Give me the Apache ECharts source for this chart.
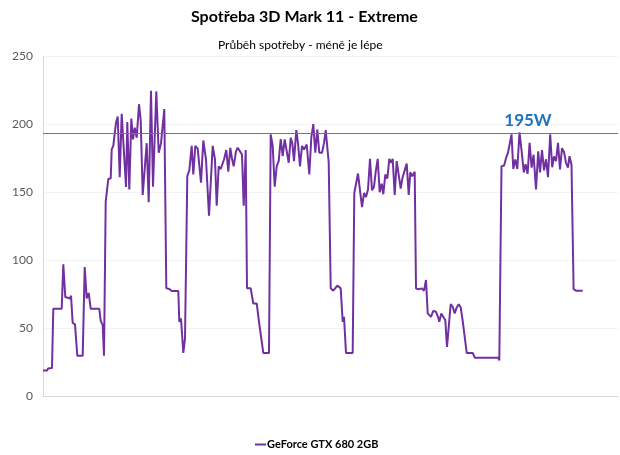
<!DOCTYPE html>
<html>
<head>
<meta charset="utf-8">
<script src="https://cdn.jsdelivr.net/npm/echarts@6/dist/echarts.min.js"></script>
<style>html,body{margin:0;padding:0;background:#fff}#c{width:620px;height:455px}</style>
</head>
<body>
<div id="c"></div>
<script>
const titleText = 'Spotřeba 3D Mark 11 - Extreme';
const subtitleText = 'Průběh spotřeby - méně je lépe';
const seriesName = 'GeForce GTX 680 2GB';
const refValue = 193;
const refLabel = '195W';
const refLabelTime = 485;
const yTicks = [0, 50, 100, 150, 200, 250];

const times = [0,4,5,9,10.3,18.7,20.3,22.3,24,27,28,29.7,32,34.3,39.7,41.7,43.7,45.7,47.7,56.3,57.7,59.7,61,62.7,65.3,67.7,68.7,70.3,73,74.7,76.7,78.7,83,84.3,86.3,88.3,90,91.7,93.7,96,97.7,99.7,103.7,105.7,108,110,113.3,115.7,118,121.3,123.3,126.3,128.7,135.3,136.3,138,140.3,142,144.3,146.3,148.7,150.3,152.3,154.7,158,160.3,163,166,169.7,172,173.7,175.7,177.7,181,183.3,185.3,187.3,189,190.7,193,194.7,197,199,200.7,202.7,204,207.7,210.3,213.7,216,218,220.3,226,227.7,229.7,231.7,233.7,235.7,237.7,239.7,241.7,243.7,245.7,247.7,249.3,251,253.3,255,257,259,261,263.7,266.3,268.3,270.3,272.3,274.3,276.3,279,281,282.7,285.7,287.7,290.3,294.3,297.7,299.7,301,303,309.7,311.3,313,315,317,319,321,323,325,327,329,331,332.7,334.7,336.7,338.7,340.3,342.3,344.3,346.3,348.3,349.7,351.7,353.7,355.7,357.7,359.3,361,363.7,365.7,367.3,369.3,371.7,373,375.3,378.7,381,383,384.7,386.3,388,390.3,393,395,396.3,398.3,400.3,402.3,404,406,407.7,409.7,411.7,413.7,415.7,417.7,419.7,421.7,423.7,429.7,431.7,441,443,445,455.3,456.3,458.5,461,463,465,467,468.5,470.3,472.3,474.3,476.5,478.8,480.8,482.6,484.6,486.6,488.6,490.6,493,495.2,497,499,501,503,505,507.2,509.2,511,513,515,517,519,521,523,525,526.5,528.5,530.6,533,539.7];

const watts = [19,19,20.5,21,64.4,64.4,97,73,72,72,74,54,53,30,30,95,72,76,64.4,64.4,55.5,52.4,30,143,159.8,160,181.4,184,201,205.5,161,207.5,153.8,201.5,152,204,188.8,197.4,190,214.6,203,148,186,142.6,224.4,154,224,179,186,211,79.4,79,77.5,77.5,54.8,57.4,32,42.5,161.8,166,184,163,184,182,157,188,174,132.7,184,174,140,169,167,174,181,165,182.6,174.5,169,180,182.6,180,177.7,140,181,79.4,79.4,68.3,68.3,54.8,54.8,32,32,192.5,183.9,154,169,172.8,189,176.5,188.8,190,171.6,190,186,172.8,195.6,186,169,184,181.4,185,163,190,200,179,196,179,179,186,195.6,172,79.4,77.7,81.4,79.4,54.8,58.5,32,32,149.4,148.2,163.7,163.7,139,149.4,146.5,152,174.5,151.5,154,165,174.5,150,156.3,148.5,163,160,174.5,171.6,174.5,148,172.8,171.6,152.6,160,160,171,148,164.6,161.7,165,79.4,78.7,79.4,77.7,85.5,61,62.2,58.5,62.9,62.2,58.5,54.8,61,61,56,36.4,36,67.8,65.9,61,65.4,67.8,65.4,55.5,54.8,32,32,28.5,28.5,29.5,28.5,28.5,26.5,169,169.5,175,179,180,192.5,167,174,167,194,179,164.5,170.5,163.5,186.3,168,177.5,152,180,164.5,181,166,174.2,161,192.5,168.3,176.2,172.8,186.3,166.8,182.3,179.5,171.6,168,176.5,170.2,78.8,77.7,77.7];

const FONT = 'Lato';
const chart = echarts.init(document.getElementById('c'), null, {renderer: 'canvas'});
chart.setOption({
  animation: false,
  backgroundColor: '#ffffff',
  title: [
    {text: titleText, left: 191, top: 9, padding: 0,
     textStyle: {fontFamily: FONT, fontSize: 16, fontWeight: 'bold', color: '#000'}},
    {text: subtitleText, left: 218, top: 39, padding: 0,
     textStyle: {fontFamily: FONT, fontSize: 12, fontWeight: 'normal', color: '#000'}}
  ],
  legend: {
    bottom: 5, left: 255, padding: 0,
    itemWidth: 11, itemHeight: 2, itemGap: 4,
    textStyle: {fontFamily: FONT, fontSize: 11, fontWeight: 'bold', color: '#000', padding: [0, 0, 0, -4]},
    data: [{name: seriesName, icon: 'rect', itemStyle: {color: '#7030a0'}}]
  },
  grid: {left: 43, right: 2, top: 56, bottom: 58.5, containLabel: false},
  xAxis: {
    type: 'value', min: 0, max: 575,
    axisLine: {show: true, lineStyle: {color: '#d9d9d9', width: 1}},
    axisTick: {show: false}, axisLabel: {show: false}, splitLine: {show: false}
  },
  yAxis: {
    type: 'value', min: yTicks[0], max: yTicks[yTicks.length - 1], interval: 50,
    axisLine: {show: true, lineStyle: {color: '#d9d9d9', width: 1}},
    axisTick: {show: false},
    axisLabel: {fontFamily: FONT, fontSize: 12, color: '#595959', margin: 10},
    splitLine: {show: true, lineStyle: {color: '#f3f3f3', width: 1}}
  },
  series: [{
    name: seriesName, type: 'line', symbol: 'none',
    data: times.map((t, i) => [t, watts[i]]),
    lineStyle: {color: '#7030a0', width: 2},
    itemStyle: {color: '#7030a0'},
    markLine: {
      silent: true, symbol: ['none', 'none'],
      lineStyle: {color: '#4a7bd0', width: 1.2, type: 'solid', opacity: 1},
      label: {show: false},
      emphasis: {disabled: true},
      data: [{yAxis: refValue, lineStyle: {color: '#4a7bd0'}}]
    },
    markPoint: {
      silent: true, symbol: 'rect', symbolSize: 0,
      label: {show: true, position: 'top', distance: 5, formatter: refLabel,
              fontFamily: FONT, fontSize: 17, fontWeight: 'bold', color: '#1f72bd'},
      data: [{coord: [refLabelTime, refValue]}]
    }
  }]
});
</script>
</body>
</html>
